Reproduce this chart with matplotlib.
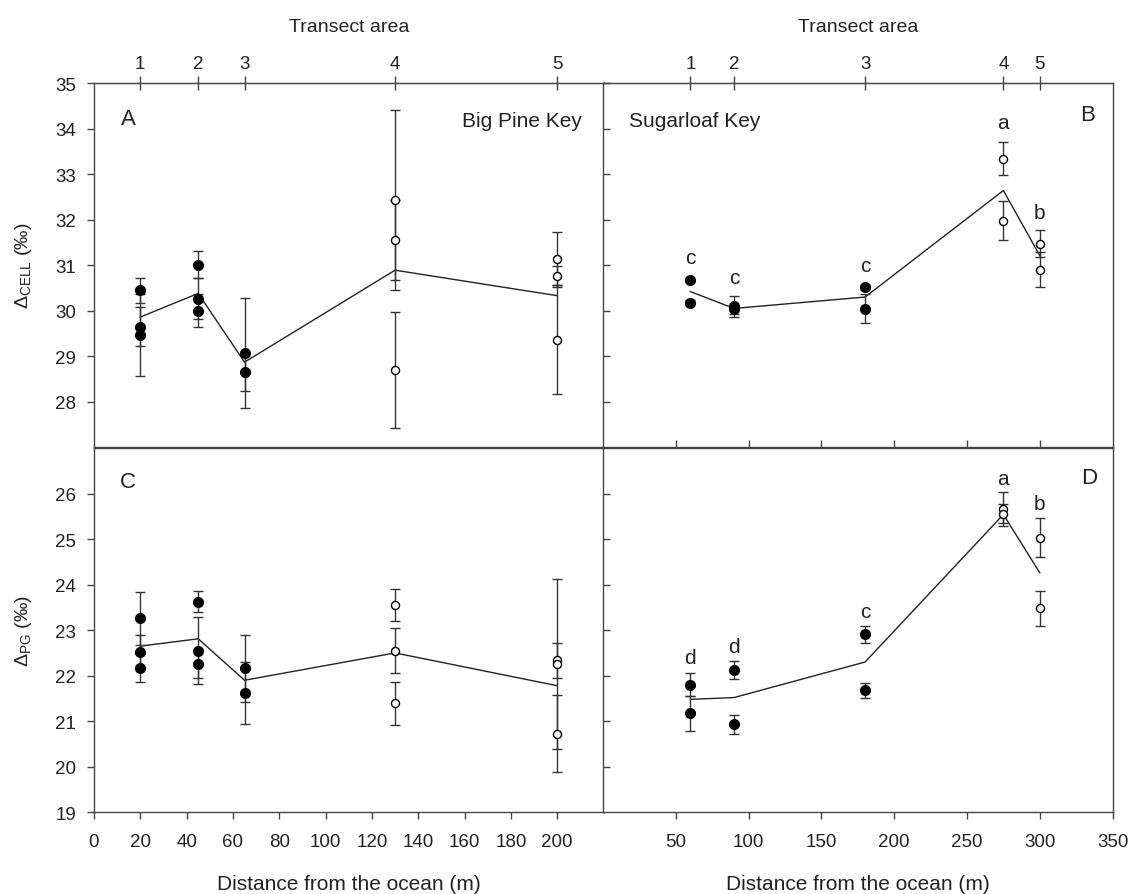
import numpy as np
import matplotlib
matplotlib.use('Agg')
import matplotlib.pyplot as plt

plt.rcParams['font.family'] = ['Liberation Sans', 'DejaVu Sans']
plt.rcParams['mathtext.fontset'] = 'custom'
plt.rcParams['mathtext.rm'] = 'Liberation Sans'

# transect areas and their distances from the ocean (m)
transect = ['1', '2', '3', '4', '5']
big_sites = [20, 45, 65, 130, 200]
sug_sites = [60, 90, 180, 275, 300]
open_big = [130, 200]
open_sug = [275, 300]

# A: Big Pine Key, delta cellulose
a_x = [20, 20, 20, 45, 45, 45, 65, 65, 130, 130, 130, 200, 200, 200]
a_y = [30.45, 29.65, 29.47, 31.01, 30.26, 30.00, 29.07, 28.65,
       32.43, 31.56, 28.70, 31.14, 30.76, 29.36]
a_err = [0.27, 0.43, 0.90, 0.30, 0.45, 0.36, 1.20, 0.41,
         1.98, 0.88, 1.27, 0.58, 0.23, 1.20]
a_mean = [29.86, 30.38, 28.87, 30.89, 30.33]

# B: Sugarloaf Key, delta cellulose
b_x = [60, 60, 90, 90, 180, 180, 275, 275, 300, 300]
b_y = [30.67, 30.18, 30.10, 30.03, 30.52, 30.04, 33.34, 31.98, 31.47, 30.90]
b_err = [0.05, 0.05, 0.23, 0.10, 0.05, 0.32, 0.37, 0.43, 0.30, 0.38]
b_mean = [30.42, 30.05, 30.30, 32.64, 31.21]
b_letters = ['c', 'c', 'c', 'a', 'b']
b_letter_y = [31.16, 30.72, 31.00, 34.14, 32.16]

# C: Big Pine Key, delta PG
c_x = [20, 20, 20, 45, 45, 45, 65, 65, 130, 130, 130, 200, 200, 200]
c_y = [23.26, 22.53, 22.17, 23.62, 22.55, 22.26, 22.16, 21.61,
       23.56, 22.55, 21.39, 22.34, 22.25, 20.73]
c_err = [0.58, 0.37, 0.31, 0.23, 0.74, 0.30, 0.74, 0.68,
         0.35, 0.49, 0.48, 0.38, 1.87, 0.84]
c_mean = [22.65, 22.81, 21.90, 22.50, 21.78]

# D: Sugarloaf Key, delta PG
d_x = [60, 60, 90, 90, 180, 180, 275, 275, 300, 300]
d_y = [21.80, 21.17, 22.13, 20.93, 22.91, 21.68, 25.66, 25.56, 25.03, 23.48]
d_err = [0.25, 0.38, 0.20, 0.20, 0.19, 0.17, 0.37, 0.20, 0.43, 0.39]
d_mean = [21.48, 21.52, 22.30, 25.54, 24.26]
d_letters = ['d', 'd', 'c', 'a', 'b']
d_letter_y = [22.39, 22.64, 23.42, 26.33, 25.79]

FS = 13.5
LFS = 15
INK = '#222222'


def draw(ax, x, y, err, sites, mean, open_sites):
    x = np.array(x)
    y = np.array(y)
    err = np.array(err)
    ax.plot(sites, mean, color=INK, lw=1.0, zorder=2)
    ax.errorbar(x, y, yerr=err, fmt='none', ecolor='#333333', elinewidth=1.0,
                capsize=3.6, capthick=1.0, zorder=3)
    op = np.isin(x, open_sites)
    ax.plot(x[~op], y[~op], 'o', color='black', ms=7, zorder=4)
    ax.plot(x[op], y[op], 'o', mfc='white', mec='black', mew=1.0, ms=5.8, zorder=4)


def style(ax):
    for s in ax.spines.values():
        s.set_color('#444444')
        s.set_linewidth(1.0)
    ax.tick_params(colors='#444444', labelcolor=INK, labelsize=FS, width=1.0)


def top_axis(ax, sites):
    sec = ax.secondary_xaxis('top')
    sec.set_xticks(sites, labels=transect)
    sec.tick_params(direction='inout', length=10, width=1.0, pad=3,
                    colors='#444444', labelcolor=INK, labelsize=FS)
    sec.spines['top'].set_color('#444444')
    sec.set_xlabel('Transect area', fontsize=14, color=INK, labelpad=17)


fig = plt.figure(figsize=(11.31, 8.95), dpi=100)
L1, L2, W = 0.0831, 0.5332, 0.4505
B1, B2, H = 0.4991, 0.0913, 0.4070

axA = fig.add_axes([L1, B1, W, H])
axB = fig.add_axes([L2, B1, W, H])
axC = fig.add_axes([L1, B2, W, H])
axD = fig.add_axes([L2, B2, W, H])

draw(axA, a_x, a_y, a_err, big_sites, a_mean, open_big)
draw(axB, b_x, b_y, b_err, sug_sites, b_mean, open_sug)
draw(axC, c_x, c_y, c_err, big_sites, c_mean, open_big)
draw(axD, d_x, d_y, d_err, sug_sites, d_mean, open_sug)

for ax in (axA, axB, axC, axD):
    style(ax)

# A
axA.set_xlim(0, 220)
axA.set_ylim(27, 35)
axA.set_yticks(np.arange(28, 36, 1))
axA.set_xticks([])
axA.tick_params(axis='y', direction='out', length=5, pad=8)
axA.set_ylabel('Δ$_{\\rm CELL}$ (‰)', fontsize=14, color=INK, labelpad=15)
top_axis(axA, big_sites)

# B
axB.set_xlim(0, 350)
axB.set_ylim(27, 35)
axB.set_yticks(np.arange(28, 36, 1))
axB.set_xticks(np.arange(50, 301, 50))
axB.tick_params(axis='both', direction='in', length=5, labelleft=False,
                labelbottom=False)
top_axis(axB, sug_sites)

# C
axC.set_xlim(0, 220)
axC.set_ylim(19, 27)
axC.set_yticks(np.arange(19, 27, 1))
axC.set_xticks(np.arange(0, 201, 20))
axC.tick_params(axis='both', direction='out', length=5)
axC.tick_params(axis='y', pad=8)
axC.tick_params(axis='x', pad=10)
axC.set_ylabel('Δ$_{\\rm PG}$ (‰)', fontsize=14, color=INK, labelpad=15)
axC.set_xlabel('Distance from the ocean (m)', fontsize=LFS, color=INK, labelpad=17)

# D
axD.set_xlim(0, 350)
axD.set_ylim(19, 27)
axD.set_yticks(np.arange(20, 27, 1))
axD.set_xticks(np.arange(50, 351, 50))
axD.tick_params(axis='y', direction='in', length=5, labelleft=False)
axD.tick_params(axis='x', direction='out', length=5, pad=10)
axD.set_xlabel('Distance from the ocean (m)', fontsize=LFS, color=INK, labelpad=17)

# panel labels and site names
axA.text(14.7, 34.22, 'A', fontsize=16, color=INK, ha='center', va='center')
axA.text(210.8, 34.18, 'Big Pine Key', fontsize=15, color=INK, ha='right', va='center')
axB.text(17.9, 34.17, 'Sugarloaf Key', fontsize=15, color=INK, ha='left', va='center')
axB.text(332.7, 34.30, 'B', fontsize=16, color=INK, ha='center', va='center')
axC.text(14.7, 26.26, 'C', fontsize=16, color=INK, ha='center', va='center')
axD.text(333.6, 26.35, 'D', fontsize=16, color=INK, ha='center', va='center')

for xs, lab, ly in zip(sug_sites, b_letters, b_letter_y):
    axB.text(xs, ly, lab, fontsize=15, color=INK, ha='center', va='center')
for xs, lab, ly in zip(sug_sites, d_letters, d_letter_y):
    axD.text(xs, ly, lab, fontsize=15, color=INK, ha='center', va='center')

fig.savefig('out.png', dpi=100)
